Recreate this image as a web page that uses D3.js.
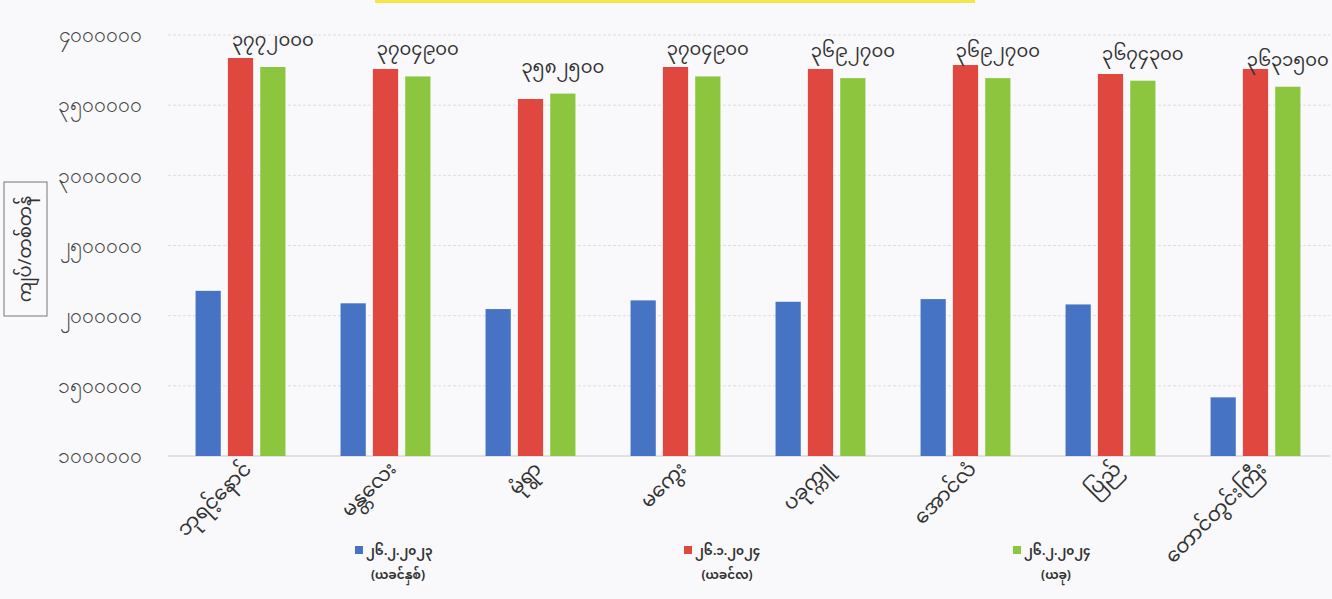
<!DOCTYPE html>
<html>
<head>
<meta charset="utf-8">
<script src="https://cdn.jsdelivr.net/npm/d3@7"></script>
<style>
  body { margin: 0; background: #f9f9fb; }
  svg { display: block; font-family: "Noto Sans Myanmar", "Padauk", "Myanmar Text", "Noto Sans", sans-serif; }
</style>
</head>
<body>
<svg width="1332" height="599"></svg>
<script>
// မြို့အမည်များ
const categories = ["ဘုရင့်နောင်", "မန္တလေး", "မုံရွာ", "မကွေး", "ပခုက္ကူ", "အောင်လံ", "ပြည်", "တောင်တွင်းကြီး"];

// ၂၆.၂.၂၀၂၃ (ယခင်နှစ်)
const prevYear = [2177000, 2088000, 2047000, 2109000, 2099000, 2118000, 2080000, 1418000];
// ၂၆.၁.၂၀၂၄ (ယခင်လ)
const prevMonth = [3836000, 3758000, 3544000, 3772000, 3758000, 3786000, 3722000, 3758000];
// ၂၆.၂.၂၀၂၄ (ယခု)
const current = [3772000, 3704900, 3582500, 3704900, 3692700, 3692700, 3674300, 3631500];

const seriesNames = ["၂၆.၂.၂၀၂၃", "၂၆.၁.၂၀၂၄", "၂၆.၂.၂၀၂၄"];
const seriesSub = ["(ယခင်နှစ်)", "(ယခင်လ)", "(ယခု)"];
const colors = ["#4773c5", "#e0473f", "#8cc63e"];

const yTicks = [1000000, 1500000, 2000000, 2500000, 3000000, 3500000, 4000000];
const yTitle = "ကျပ်/တစ်တန်";

// ဂဏန်းကို မြန်မာဂဏန်းပြောင်း
const myDigits = "၀၁၂၃၄၅၆၇၈၉";
const toMy = (n) => String(n).replace(/[0-9]/g, (d) => myDigits[+d]);

const svg = d3.select("svg");
const series = [prevYear, prevMonth, current];

const x0 = d3.scaleBand()
    .domain(categories)
    .range([168, 1328])
    .paddingInner(0.38)
    .paddingOuter(0.19);

const x1 = d3.scaleBand()
    .domain(d3.range(series.length))
    .range([0, x0.bandwidth()])
    .paddingInner(0.22);

const y = d3.scaleLinear()
    .domain([1000000, 4000000])
    .range([456, 35]);

// ခေါင်းစဉ်အကွက်အစွန်း (အဝါ)
svg.append("rect")
    .attr("x", 375).attr("y", 0)
    .attr("width", 600).attr("height", 3)
    .attr("fill", "#f3e64a");

// grid lines
svg.append("g")
    .selectAll("line")
    .data(yTicks)
    .join("line")
    .attr("x1", 168).attr("x2", 1330)
    .attr("y1", (d) => y(d)).attr("y2", (d) => y(d))
    .attr("stroke", (d) => d === 1000000 ? "#c8c8cc" : "#dedee2")
    .attr("stroke-dasharray", (d) => d === 1000000 ? null : "3,2")
    .attr("stroke-width", 1);

// y axis
const yAxis = d3.axisLeft(y)
    .tickValues(yTicks)
    .tickFormat(toMy)
    .tickSize(0)
    .tickPadding(0);

svg.append("g")
    .attr("transform", "translate(142,0)")
    .call(yAxis)
    .call((g) => g.select(".domain").remove())
    .selectAll("text")
    .attr("font-size", 21)
    .attr("fill", "#444");

// y title with box
const yt = svg.append("g").attr("transform", "translate(25,249) rotate(-90)");
yt.append("rect")
    .attr("x", -67).attr("y", -21)
    .attr("width", 134).attr("height", 43)
    .attr("fill", "none")
    .attr("stroke", "#777")
    .attr("stroke-width", 1);
yt.append("text")
    .attr("text-anchor", "middle")
    .attr("dy", "0.35em")
    .attr("font-size", 18)
    .attr("fill", "#333")
    .text(yTitle);

// bars
const groups = svg.append("g")
    .selectAll("g")
    .data(categories)
    .join("g")
    .attr("transform", (d) => `translate(${x0(d)},0)`);

groups.selectAll("rect")
    .data((d, i) => series.map((s, k) => ({k, v: s[i]})))
    .join("rect")
    .attr("x", (d) => x1(d.k))
    .attr("width", x1.bandwidth())
    .attr("y", (d) => y(d.v))
    .attr("height", (d) => y(1000000) - y(d.v))
    .attr("fill", (d) => colors[d.k]);

// value labels (ယခု)
groups.append("text")
    .attr("x", x1(2) + x1.bandwidth() / 2)
    .attr("y", (d, i) => y(current[i]) - 21)
    .attr("text-anchor", "middle")
    .attr("font-size", 18)
    .attr("fill", "#333")
    .text((d, i) => toMy(current[i]));

// category labels
svg.append("g")
    .selectAll("text")
    .data(categories)
    .join("text")
    .attr("transform", (d) => `translate(${x0(d) + x0.bandwidth() / 2 + 12},470) rotate(-45)`)
    .attr("text-anchor", "end")
    .attr("font-size", 20)
    .attr("fill", "#333")
    .text((d) => d);

// legend
const legendX = [355, 684, 1013];
const legend = svg.append("g")
    .selectAll("g")
    .data(seriesNames)
    .join("g")
    .attr("transform", (d, i) => `translate(${legendX[i]},0)`);

legend.append("rect")
    .attr("x", 0).attr("y", 546)
    .attr("width", 8).attr("height", 8)
    .attr("fill", (d, i) => colors[i]);

legend.append("text")
    .attr("x", 11).attr("y", 555)
    .attr("font-size", 12)
    .attr("font-weight", "bold")
    .attr("fill", "#333")
    .text((d) => toMy(d));

legend.append("text")
    .attr("x", 43).attr("y", 579)
    .attr("text-anchor", "middle")
    .attr("font-size", 12)
    .attr("font-weight", "bold")
    .attr("fill", "#333")
    .text((d, i) => seriesSub[i]);
</script>
</body>
</html>
